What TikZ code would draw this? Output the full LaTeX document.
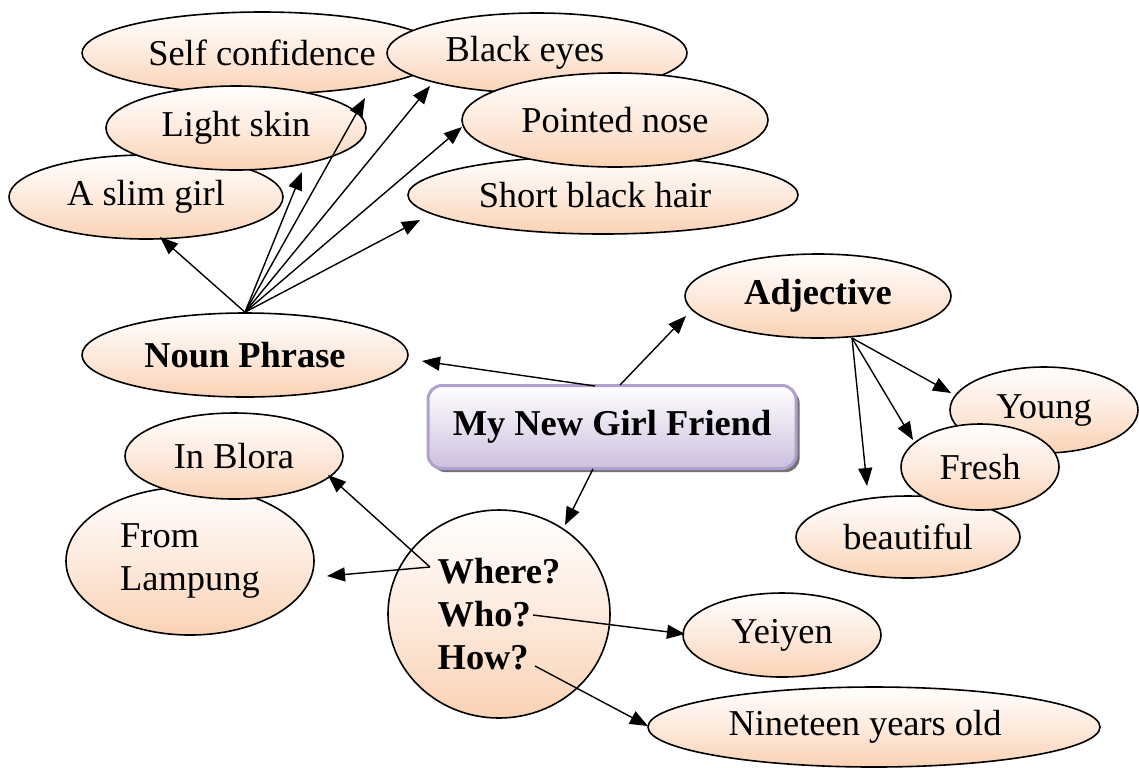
\documentclass[tikz,border=0pt]{standalone}
\usepackage{fontspec}
\setmainfont{Liberation Serif}
\usetikzlibrary{arrows.meta,shadows,shapes.geometric}
\definecolor{peach}{RGB}{250,210,180}
\definecolor{peachmid}{RGB}{253,234,221}
\definecolor{lavline}{RGB}{176,160,206}
\definecolor{lavfill}{RGB}{204,192,222}
\tikzset{
  ell/.style={ellipse, draw=black, line width=0.8pt, inner sep=0pt,
    top color=white, bottom color=peach, middle color=peachmid,
    font=\fontsize{18.2}{21.5}\selectfont},
  arr/.style={draw=black, line width=0.7pt, -{Triangle[length=9pt,width=7pt]}}
}
\begin{document}
\begin{tikzpicture}[x=0.5pt,y=-0.5pt]
\useasboundingbox (0,0) rectangle (1139,767);
% top cluster
\node[ell, minimum width=137pt, minimum height=42pt] (slim) at (146,197) {A slim girl};
\node[ell, minimum width=180pt, minimum height=41pt] (selfc) at (262,53) {Self confidence};
\node[ell, minimum width=130pt, minimum height=42pt] (light) at (236,128) {Light skin};
\node[ell, minimum width=150pt, minimum height=40pt] (black) at (537,53) {Black eyes\kern12pt};
\node[ell, minimum width=195pt, minimum height=39pt] (short) at (603,195) {Short black hair\kern8pt};
\node[ell, minimum width=153pt, minimum height=47pt] (pointed) at (615,120) {Pointed nose};
% noun phrase
\node[ell, minimum width=163pt, minimum height=42pt, font=\fontsize{18.2}{21.5}\selectfont\bfseries] (np) at (245,355) {Noun Phrase};
% adjective
\node[ell, minimum width=133pt, minimum height=42pt, font=\fontsize{18.2}{21.5}\selectfont\bfseries] (adj) at (818,296) {Adjective};
\node[ell, minimum width=94pt, minimum height=43pt] (young) at (1044,410) {Young};
\node[ell, minimum width=112pt, minimum height=41pt] (beaut) at (908,537) {beautiful};
\node[ell, minimum width=79pt, minimum height=43pt] (fresh) at (980,467) {Fresh};
% central box
\node[rounded corners=7pt, draw=lavline, line width=1.5pt, top color=white, bottom color=lavfill,
  drop shadow={shadow xshift=1.8pt, shadow yshift=-1.8pt, fill=black!55, opacity=1},
  minimum width=184pt, minimum height=41.5pt, inner sep=0pt,
  font=\fontsize{18.2}{21.5}\selectfont\bfseries] (box) at (612,427) {My New Girl Friend};
% left bottom
\node[ell, minimum width=124pt, minimum height=74pt, align=left] (lamp) at (190,561) {From\\Lampung};
\node[ell, minimum width=109pt, minimum height=43pt] (blora) at (234,456) {In Blora};
% question circle
\node[ell, minimum width=111pt, minimum height=104pt, align=left, font=\fontsize{18.2}{21.5}\selectfont\bfseries] (q) at (499,614) {Where?\\Who?\\How?};
% right bottom
\node[ell, minimum width=99pt, minimum height=42pt] (yei) at (782,635) {Yeiyen};
\node[ell, minimum width=226pt, minimum height=40pt] (nine) at (874,727) {Nineteen years old\kern9pt};
% arrow end coordinates
\coordinate (tslim) at (160,237);
\coordinate (tlight) at (302,172);
\coordinate (tselfc) at (365,98);
\coordinate (tblack) at (430,86);
\coordinate (tpointed) at (462,127);
\coordinate (tshort) at (420,220);
\coordinate (b1) at (595,386);
\coordinate (b2) at (620,385);
\coordinate (b3) at (593,469);
\coordinate (tnp) at (422,361);
\coordinate (tadj) at (686,316);
\coordinate (tq) at (565,525);
\coordinate (adjs) at (852,338);
\coordinate (tyoung) at (951,393);
\coordinate (tfresh) at (913,440);
\coordinate (tbeaut) at (867,486);
\coordinate (qw) at (430,567);
\coordinate (qwho) at (533,615);
\coordinate (qhow) at (535,666);
\coordinate (tblora) at (328,475);
\coordinate (tlamp) at (327,576);
\coordinate (tyei) at (685,634);
\coordinate (tnine) at (648,726);
% arrows
\foreach \t in {tslim,tlight,tselfc,tblack,tpointed,tshort}
  \draw[arr] (np.north) -- (\t);
\draw[arr] (b1) -- (tnp);
\draw[arr] (b2) -- (tadj);
\draw[arr] (b3) -- (tq);
\foreach \t in {tyoung,tfresh,tbeaut}
  \draw[arr] (adjs) -- (\t);
\draw[arr] (qw) -- (tblora);
\draw[arr] (qw) -- (tlamp);
\draw[arr] (qwho) -- (tyei);
\draw[arr] (qhow) -- (tnine);
\end{tikzpicture}
\end{document}
